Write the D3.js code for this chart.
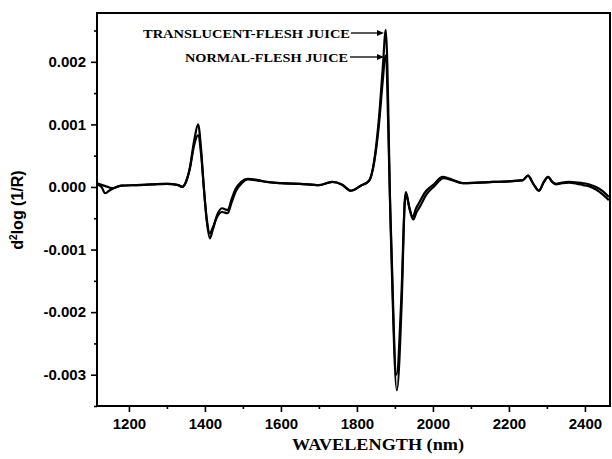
<!DOCTYPE html>
<html>
<head>
<meta charset="utf-8">
<script src="https://cdn.jsdelivr.net/npm/d3@7"></script>
<style>
  body { margin: 0; background: #fff; }
  svg { display: block; }
</style>
</head>
<body>
<svg id="chart" width="612" height="459"></svg>
<script>
// wavelength (nm) samples
const translucentNm = [1116, 1130, 1140, 1155, 1180, 1220, 1260, 1300, 1330, 1340, 1350, 1360, 1372, 1382, 1390, 1397,
  1405, 1413, 1420, 1432, 1445, 1460, 1470, 1480, 1495, 1513, 1540, 1563, 1600, 1650, 1700, 1735, 1760, 1784,
  1810, 1832, 1845, 1858, 1868, 1876, 1889, 1905, 1918, 1926, 1929, 1937, 1947, 1955, 1963, 1980, 2000, 2026,
  2050, 2079, 2120, 2158, 2200, 2237, 2250, 2265, 2279, 2292, 2303, 2314, 2324, 2340, 2358, 2380, 2395, 2412,
  2429, 2445, 2463];
const translucentVal = [0.00006, 0.00003, 0.00001, -0.00002, 0.00002, 0.00003, 0.00004, 0.00005, 0.00003, 0.00000,
  0.00008, 0.00030, 0.00075, 0.00100, 0.00060, 0.00000, -0.00055, -0.00082, -0.00070, -0.00045, -0.00034, -0.00037,
  -0.00020, -0.00004, 0.00008, 0.00013, 0.00011, 0.00008, 0.00006, 0.00005, 0.00003, 0.00008, 0.00004, -0.00006,
  0.00002, 0.00010, 0.00040, 0.00110, 0.00190, 0.00251, -0.00069, -0.00325, -0.00181, -0.00021, -0.00008,
  -0.00030, -0.00048, -0.00035, -0.00026, -0.00008, 0.00003, 0.00016, 0.00012, 0.00006, 0.00007, 0.00008,
  0.00009, 0.00011, 0.00018, 0.00004, -0.00006, 0.00008, 0.00016, 0.00008, 0.00005, 0.00007, 0.00008, 0.00007,
  0.00006, 0.00004, 0.00000, -0.00006, -0.00016];

const normalNm = [1116, 1128, 1137, 1148, 1160, 1180, 1220, 1260, 1300, 1330, 1340, 1350, 1360, 1372, 1382, 1390, 1397,
  1405, 1413, 1420, 1432, 1445, 1460, 1470, 1482, 1497, 1513, 1540, 1563, 1600, 1650, 1700, 1735, 1760, 1784,
  1810, 1832, 1845, 1858, 1868, 1875, 1889, 1904, 1917, 1926, 1930, 1938, 1948, 1957, 1966, 1983, 2003, 2028,
  2050, 2079, 2120, 2158, 2200, 2237, 2250, 2265, 2279, 2292, 2303, 2314, 2324, 2340, 2358, 2380, 2395, 2412,
  2429, 2445, 2463];
const normalVal = [0.00004, 0.00000, -0.00010, -0.00006, -0.00002, 0.00002, 0.00003, 0.00004, 0.00005, 0.00003, 0.00000,
  0.00008, 0.00028, 0.00068, 0.00083, 0.00052, 0.00000, -0.00052, -0.00074, -0.00066, -0.00048, -0.00040, -0.00042,
  -0.00025, -0.00006, 0.00006, 0.00012, 0.00010, 0.00008, 0.00006, 0.00005, 0.00003, 0.00008, 0.00004, -0.00006,
  0.00002, 0.00010, 0.00038, 0.00100, 0.00170, 0.00210, -0.00060, -0.00300, -0.00175, -0.00025, -0.00012,
  -0.00034, -0.00052, -0.00040, -0.00031, -0.00012, 0.00001, 0.00014, 0.00011, 0.00006, 0.00007, 0.00008,
  0.00009, 0.00011, 0.00018, 0.00004, -0.00006, 0.00008, 0.00016, 0.00008, 0.00004, 0.00006, 0.00007, 0.00005,
  0.00003, 0.00001, -0.00004, -0.00011, -0.00021];

const xTicks = [1200, 1400, 1600, 1800, 2000, 2200, 2400];
const xMinorTicks = [1300, 1500, 1700, 1900, 2100, 2300];
const yTicks = [-0.003, -0.002, -0.001, 0.000, 0.001, 0.002];
const yMinorTicks = [-0.0035, -0.0025, -0.0015, -0.0005, 0.0005, 0.0015, 0.0025];

const svg = d3.select('#chart');
const plotLeft = 97, plotRight = 610, plotTop = 13, plotBottom = 406;

const x = d3.scaleLinear().domain([1116, 2466]).range([plotLeft, plotRight]);
const y = d3.scaleLinear().domain([-0.0035, 0.00278]).range([plotBottom, plotTop]);

const fmt = (d) => (Math.abs(d) < 1e-9 ? 0 : d).toFixed(3);

svg.append('defs').append('clipPath').attr('id', 'plot')
   .append('rect')
   .attr('x', plotLeft).attr('y', plotTop)
   .attr('width', plotRight - plotLeft).attr('height', plotBottom - plotTop);

// axes
svg.append('g')
  .attr('transform', `translate(0,${plotBottom})`)
  .call(d3.axisBottom(x).tickValues(xTicks).tickSize(6).tickPadding(6).tickFormat(d3.format('d')));
svg.append('g')
  .attr('transform', `translate(0,${plotBottom})`)
  .call(d3.axisBottom(x).tickValues(xMinorTicks).tickSize(3).tickFormat(''));

svg.append('g')
  .attr('transform', `translate(${plotLeft},0)`)
  .call(d3.axisLeft(y).tickValues(yTicks).tickSize(6).tickPadding(5).tickFormat(fmt));
svg.append('g')
  .attr('transform', `translate(${plotLeft},0)`)
  .call(d3.axisLeft(y).tickValues(yMinorTicks).tickSize(3).tickFormat(''));

svg.selectAll('.tick line').attr('stroke', '#000').attr('stroke-width', 1.6);
svg.selectAll('.tick text')
   .attr('fill', '#000')
   .style('font-family', '"Liberation Sans", Arial, sans-serif')
   .style('font-size', '15px')
   .style('font-weight', 'bold');
svg.selectAll('.domain').remove();

// frame
svg.append('rect')
   .attr('x', plotLeft).attr('y', plotTop)
   .attr('width', plotRight - plotLeft).attr('height', plotBottom - plotTop)
   .attr('fill', 'none').attr('stroke', '#000').attr('stroke-width', 2);

// curves
const line = d3.line()
  .x((d) => x(d[0]))
  .y((d) => y(d[1]))
  .curve(d3.curveMonotoneX);

const plot = svg.append('g').attr('clip-path', 'url(#plot)');
plot.append('path')
    .datum(d3.zip(normalNm, normalVal))
    .attr('d', line)
    .attr('fill', 'none').attr('stroke', '#000').attr('stroke-width', 2.2)
    .attr('stroke-linejoin', 'round');
plot.append('path')
    .datum(d3.zip(translucentNm, translucentVal))
    .attr('d', line)
    .attr('fill', 'none').attr('stroke', '#000').attr('stroke-width', 2.2)
    .attr('stroke-linejoin', 'round');

// annotations with arrows
function annotate(label, x0, x1, tipX, yText, yArrow, width) {
  svg.append('text')
     .attr('x', x0).attr('y', yText)
     .attr('textLength', width)
     .attr('lengthAdjust', 'spacingAndGlyphs')
     .attr('font-family', '"Liberation Serif", "Times New Roman", serif')
     .attr('font-size', 13)
     .attr('font-weight', 'bold')
     .text(label);
  svg.append('line')
     .attr('x1', x1).attr('x2', tipX - 5)
     .attr('y1', yArrow).attr('y2', yArrow)
     .attr('stroke', '#000').attr('stroke-width', 1.3);
  svg.append('path')
     .attr('d', `M${tipX},${yArrow} L${tipX - 7},${yArrow - 3} L${tipX - 7},${yArrow + 3} Z`)
     .attr('fill', '#000');
}
annotate('TRANSLUCENT-FLESH JUICE', 143, 351, 384, 38, 33, 207);
annotate('NORMAL-FLESH JUICE', 185, 350, 384, 62, 57, 163);

// axis titles
svg.append('text')
   .attr('x', 292).attr('y', 450)
   .attr('textLength', 172)
   .attr('lengthAdjust', 'spacingAndGlyphs')
   .attr('font-family', '"Liberation Serif", "Times New Roman", serif')
   .attr('font-size', 16)
   .attr('font-weight', 'bold')
   .text('WAVELENGTH (nm)');

const yTitle = svg.append('text')
   .attr('transform', 'translate(23,210) rotate(-90)')
   .attr('text-anchor', 'middle')
   .attr('font-family', '"Liberation Sans", Arial, sans-serif')
   .attr('font-size', 16)
   .attr('font-weight', 'bold');
yTitle.append('tspan').text('d');
yTitle.append('tspan').attr('dy', -6).attr('font-size', 10).text('2');
yTitle.append('tspan').attr('dy', 6).text('log (1/R)');
</script>
</body>
</html>
